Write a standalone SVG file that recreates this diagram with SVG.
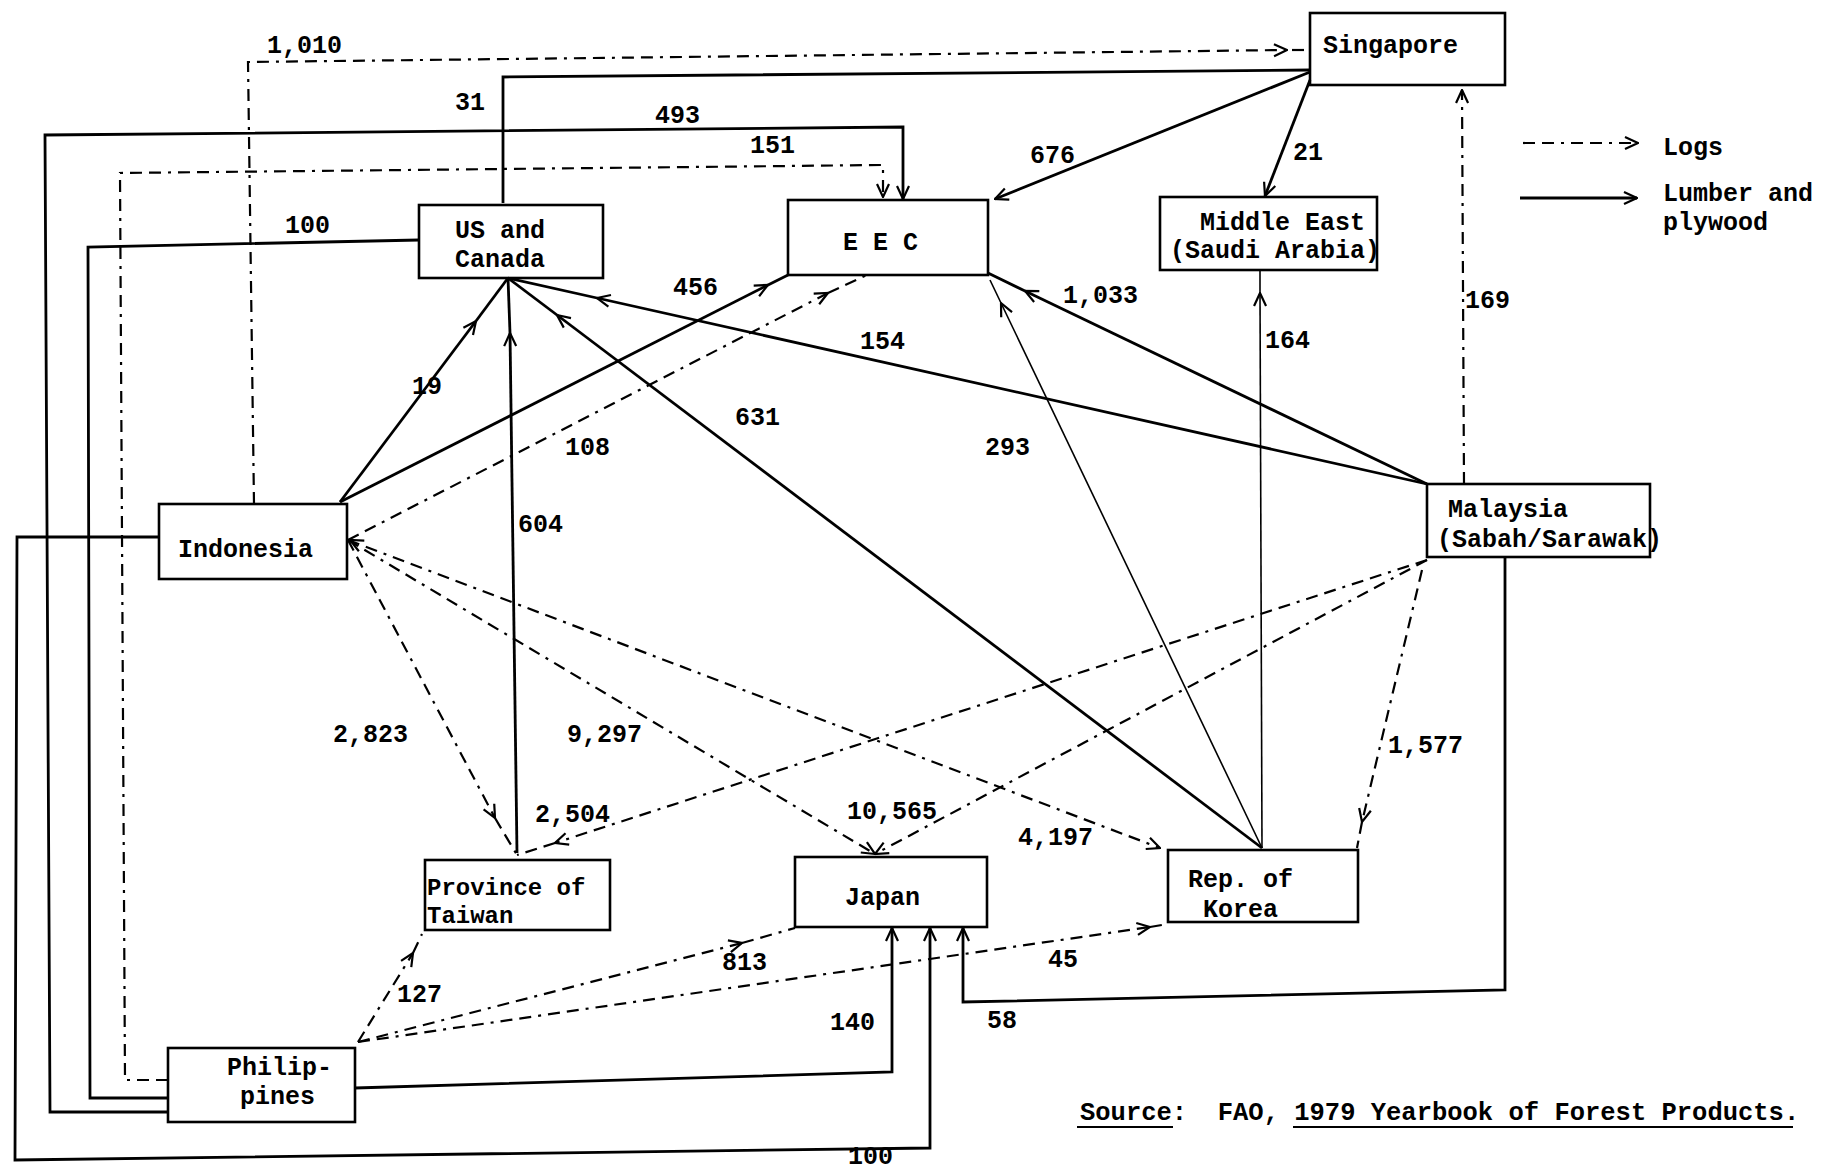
<svg xmlns="http://www.w3.org/2000/svg" width="1822" height="1172" viewBox="0 0 1822 1172">
<style>
.box{fill:none;stroke:#000;stroke-width:2.6}
.t{font-family:"Liberation Mono","Courier New",monospace;font-size:25px;font-weight:bold;fill:#000}
.s{fill:none;stroke:#000;stroke-width:2.8}
.thin{fill:none;stroke:#000;stroke-width:1.6}
.d{fill:none;stroke:#000;stroke-width:2.2;stroke-dasharray:12 7 12 7 3 7}
.u{stroke:#000;stroke-width:2}
</style>
<defs>
<marker id="a" viewBox="0 0 16 16" refX="15" refY="8" markerWidth="16" markerHeight="16" markerUnits="userSpaceOnUse" orient="auto"><path d="M2,2 L15,8 L2,14" fill="none" stroke="#000" stroke-width="2.2"/></marker>
<path id="ah" d="M-13,-6 L0,0 L-13,6" fill="none" stroke="#000" stroke-width="2.2"/>
</defs>
<rect width="1822" height="1172" fill="#fff"/>

<g id="connectors">
<!-- lumber and plywood (solid) -->
<path class="s" d="M503,203 L503,77 L1310,70"/>
<path class="s" d="M168,1112 L50,1112 L45,135 L903,127 L903,199" marker-end="url(#a)"/>
<path class="s" d="M168,1098 L90,1098 L88,247 L419,240"/>
<path class="s" d="M159,537 L17,537 L15,1160 L930,1148 L930,928" marker-end="url(#a)"/>
<path class="s" d="M340,502 L476,321" marker-end="url(#a)"/>
<path class="s" d="M476,321 L508,278"/>
<path class="s" d="M340,502 L768,285" marker-end="url(#a)"/>
<path class="s" d="M768,285 L788,275"/>
<path class="s" d="M517,853 L510,333" marker-end="url(#a)"/>
<path class="s" d="M510,333 L508,278"/>
<path class="s" d="M1262,848 L557,315" marker-end="url(#a)"/>
<path class="s" d="M557,315 L508,278"/>
<path class="s" d="M1427,484 L597,298" marker-end="url(#a)"/>
<path class="s" d="M597,298 L508,278"/>
<path class="s" d="M1310,72 L995,199" marker-end="url(#a)"/>
<path class="s" d="M1310,80 L1265,196" marker-end="url(#a)"/>
<path class="s" d="M1427,484 L1025,291" marker-end="url(#a)"/>
<path class="s" d="M1025,291 L988,273"/>
<path class="thin" d="M1262,848 L1001,303" marker-end="url(#a)"/>
<path class="thin" d="M1001,303 L990,280"/>
<path class="thin" d="M1262,848 L1260,293" marker-end="url(#a)"/>
<path class="thin" d="M1260,293 L1260,270"/>
<path class="s" d="M1505,557 L1505,990 L963,1002 L963,928" marker-end="url(#a)"/>
<path class="s" d="M355,1088 L892,1072 L892,928" marker-end="url(#a)"/>
<!-- logs (dashed) -->
<path class="d" d="M254,504 L248,62 L1287,50" marker-end="url(#a)"/>
<path class="d" d="M1292,50 L1310,50"/>
<path class="d" d="M168,1080 L125,1080 L120,173 L883,165 L883,197" marker-end="url(#a)"/>
<path class="d" d="M1464,484 L1462,90" marker-end="url(#a)"/>
<path class="d" d="M348,540 L828,293" marker-end="url(#a)"/>
<path class="d" d="M828,293 L867,275"/>
<path class="d" d="M348,540 L495,818" marker-end="url(#a)"/>
<path class="d" d="M495,818 L517,855"/>
<path class="d" d="M348,540 L875,854" marker-end="url(#a)"/>
<path class="d" d="M348,540 L1160,848" marker-end="url(#a)"/>
<path class="d" d="M1427,560 L555,843" marker-end="url(#a)"/>
<path class="d" d="M555,843 L517,855"/>
<path class="d" d="M1427,560 L875,854" marker-end="url(#a)"/>
<path class="d" d="M1422,570 L1362,822" marker-end="url(#a)"/>
<path class="d" d="M1362,822 L1357,848"/>
<path class="d" d="M358,1042 L413,953" marker-end="url(#a)"/>
<path class="d" d="M413,953 L422,934"/>
<path class="d" d="M358,1042 L742,943" marker-end="url(#a)"/>
<path class="d" d="M742,943 L795,928"/>
<path class="d" d="M358,1042 L1150,927" marker-end="url(#a)"/>
<path class="d" d="M1150,927 L1168,924"/>
<use href="#ah" transform="translate(350,540) rotate(207)"/>
<!-- legend -->
<path class="d" d="M1523,143 L1638,143" marker-end="url(#a)"/>
<path class="s" d="M1520,198 L1637,198" marker-end="url(#a)"/>
</g>

<g id="labels" class="t">
<text x="267" y="53">1,010</text>
<text x="455" y="110">31</text>
<text x="655" y="123">493</text>
<text x="750" y="153">151</text>
<text x="285" y="233">100</text>
<text x="1030" y="163">676</text>
<text x="1293" y="160">21</text>
<text x="673" y="295">456</text>
<text x="860" y="349">154</text>
<text x="1063" y="303">1,033</text>
<text x="1265" y="348">164</text>
<text x="1465" y="308">169</text>
<text x="412" y="394">19</text>
<text x="565" y="455">108</text>
<text x="735" y="425">631</text>
<text x="985" y="455">293</text>
<text x="518" y="532">604</text>
<text x="333" y="742">2,823</text>
<text x="567" y="742">9,297</text>
<text x="1388" y="753">1,577</text>
<text x="535" y="822">2,504</text>
<text x="847" y="819">10,565</text>
<text x="1018" y="845">4,197</text>
<text x="722" y="970">813</text>
<text x="397" y="1002">127</text>
<text x="1048" y="967">45</text>
<text x="830" y="1030">140</text>
<text x="987" y="1028">58</text>
<text x="848" y="1164">100</text>
<text x="1663" y="155">Logs</text>
<text x="1663" y="201">Lumber and</text>
<text x="1663" y="230">plywood</text>
</g>

<g id="source">
<text class="t" x="1080" y="1120" style="font-size:25.5px" xml:space="preserve">Source:  FAO, 1979 Yearbook of Forest Products.</text>
<line class="u" x1="1077" y1="1127" x2="1173" y2="1127"/>
<line class="u" x1="1293" y1="1127" x2="1793" y2="1127"/>
</g>

<g id="singapore"><rect class="box" x="1310" y="13" width="195" height="72"/><text class="t" x="1323" y="53">Singapore</text></g>
<g id="us-canada"><rect class="box" x="419" y="205" width="184" height="73"/><text class="t" x="455" y="238">US and</text><text class="t" x="455" y="267">Canada</text></g>
<g id="eec"><rect class="box" x="788" y="200" width="200" height="75"/><text class="t" x="843" y="250">E E C</text></g>
<g id="middle-east"><rect class="box" x="1160" y="197" width="217" height="73"/><text class="t" x="1200" y="230">Middle East</text><text class="t" x="1170" y="258">(Saudi Arabia)</text></g>
<g id="indonesia"><rect class="box" x="159" y="504" width="188" height="75"/><text class="t" x="178" y="557">Indonesia</text></g>
<g id="malaysia"><rect class="box" x="1427" y="484" width="223" height="73"/><text class="t" x="1448" y="517">Malaysia</text><text class="t" x="1437" y="547">(Sabah/Sarawak)</text></g>
<g id="taiwan"><rect class="box" x="425" y="860" width="185" height="70"/><text class="t" x="427" y="895" style="font-size:24px">Province of</text><text class="t" x="427" y="923" style="font-size:24px">Taiwan</text></g>
<g id="japan"><rect class="box" x="795" y="857" width="192" height="70"/><text class="t" x="845" y="905">Japan</text></g>
<g id="korea"><rect class="box" x="1168" y="850" width="190" height="72"/><text class="t" x="1188" y="887">Rep. of</text><text class="t" x="1203" y="917">Korea</text></g>
<g id="philippines"><rect class="box" x="168" y="1048" width="187" height="74"/><text class="t" x="227" y="1075">Philip-</text><text class="t" x="240" y="1104">pines</text></g>
</svg>
